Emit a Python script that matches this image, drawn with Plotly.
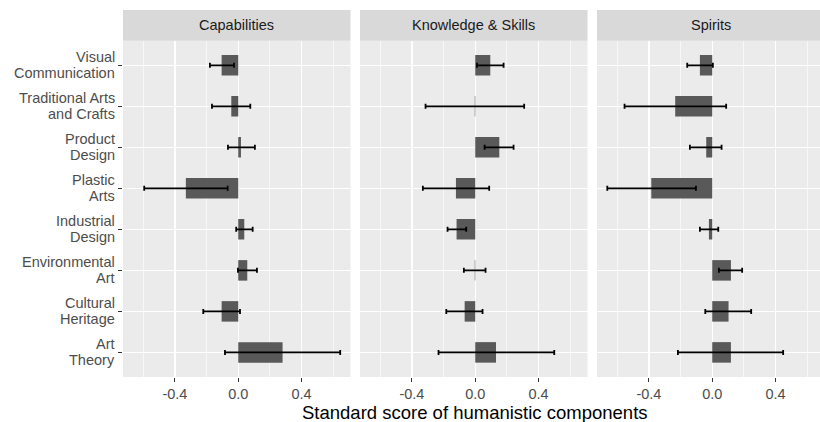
import plotly.graph_objects as go

categories = ["Visual Communication", "Traditional Arts and Crafts", "Product Design",
              "Plastic Arts", "Industrial Design", "Environmental Art",
              "Cultural Heritage", "Art Theory"]
tick_labels = [("Visual", "Communication"), ("Traditional Arts", "and Crafts"), ("Product", "Design"),
               ("Plastic", "Arts"), ("Industrial", "Design"), ("Environmental", "Art"),
               ("Cultural", "Heritage"), ("Art", "Theory")]
facets = ["Capabilities", "Knowledge & Skills", "Spirits"]

cap_val = [-0.105, -0.044, 0.017, -0.331, 0.038, 0.057, -0.105, 0.280]
cap_lo = [-0.179, -0.166, -0.065, -0.594, -0.013, -0.002, -0.221, -0.084]
cap_hi = [-0.027, 0.076, 0.105, -0.067, 0.091, 0.118, 0.011, 0.644]

ks_val = [0.095, -0.003, 0.152, -0.122, -0.118, -0.003, -0.067, 0.131]
ks_lo = [0.011, -0.314, 0.059, -0.331, -0.175, -0.072, -0.183, -0.232]
ks_hi = [0.179, 0.309, 0.242, 0.088, -0.057, 0.065, 0.046, 0.499]

sp_val = [-0.078, -0.234, -0.038, -0.385, -0.021, 0.118, 0.103, 0.118]
sp_lo = [-0.158, -0.554, -0.141, -0.663, -0.078, 0.042, -0.044, -0.217]
sp_hi = [0.004, 0.088, 0.059, -0.103, 0.038, 0.189, 0.246, 0.448]

x_ticks = [-0.4, 0.0, 0.4]
x_tick_text = ["-0.4", "0.0", "0.4"]
x_minor = [-0.6, -0.2, 0.2, 0.6]
x_title = "Standard score of humanistic components"

series = [(cap_val, cap_lo, cap_hi), (ks_val, ks_lo, ks_hi), (sp_val, sp_lo, sp_hi)]

FONT = "Liberation Sans, Arial, Helvetica, sans-serif"
W, H = 820, 422
L, R, T, B = 123, 0, 10, 45
pw = W - L - R
ph = H - T - B

panel_px = [(123, 350.5), (360, 587.5), (597, 820)]
xranges = [[-0.728, 0.709], [-0.728, 0.709], [-0.728, -0.728 + (820 - 597) / 158.3]]
ytop = (H - B - 40.7) / ph

fig = go.Figure()
for i, (vals, lo, hi) in enumerate(series):
    ax = "" if i == 0 else str(i + 1)
    plus = [h - v for v, h in zip(vals, hi)]
    minus = [v - l for v, l in zip(vals, lo)]
    fig.add_trace(go.Bar(
        x=vals, y=categories, orientation="h", width=0.5,
        marker=dict(color="#595959", line=dict(width=0)),
        error_x=dict(type="data", symmetric=False, array=plus, arrayminus=minus,
                     color="#000000", thickness=1.8, width=2.5),
        xaxis="x" + ax, yaxis="y" + ax, showlegend=False,
    ))

cat_order = categories[::-1]
for i in range(3):
    ax = "" if i == 0 else str(i + 1)
    x0 = (panel_px[i][0] - L) / pw
    x1 = min((panel_px[i][1] - L) / pw, 1.0)
    fig.layout["xaxis" + ax] = dict(
        domain=[x0, x1], range=xranges[i], anchor="y" + ax, automargin=False,
        tickvals=x_ticks, ticktext=x_tick_text, ticks="outside", ticklen=4,
        tickcolor="#333333", tickwidth=1.1,
        tickfont=dict(family=FONT, size=14.5, color="#4d4d4d"),
        showgrid=True, gridcolor="#ffffff", gridwidth=1.2, zeroline=False,
        minor=dict(tickvals=x_minor, showgrid=True, gridcolor="#ffffff", gridwidth=0.6, ticks=""),
        showline=False, fixedrange=True,
    )
    fig.layout["yaxis" + ax] = dict(
        domain=[0, ytop], anchor="x" + ax, type="category", automargin=False,
        categoryorder="array", categoryarray=cat_order, range=[-0.6, 7.6],
        tickvals=categories, showticklabels=False,
        ticks="outside" if i == 0 else "", ticklen=4,
        tickcolor="#333333", tickwidth=1.1,
        showgrid=True, gridcolor="#ffffff", gridwidth=1.2, zeroline=False,
        showline=False, fixedrange=True,
    )
    fig.add_shape(type="rect", xref="paper", yref="paper", x0=x0, x1=x1,
                  y0=0, y1=ytop, fillcolor="#ebebeb", line=dict(width=0), layer="below")
    fig.add_shape(type="rect", xref="paper", yref="paper", x0=x0, x1=x1,
                  y0=ytop, y1=1.0, fillcolor="#d9d9d9", line=dict(width=0), layer="below")
    xc = ((panel_px[i][0] + (panel_px[i][0] + 227.5)) / 2 - L) / pw
    fig.add_annotation(text=facets[i], xref="paper", yref="paper", x=xc,
                       y=(H - B - 25.4) / ph, showarrow=False, xanchor="center", yanchor="middle",
                       font=dict(family=FONT, size=14.5, color="#1a1a1a"))

# two-line y tick labels (tight line spacing like the reference)
for cat, (l1, l2) in zip(categories, tick_labels):
    for txt, shift in ((l1, 8), (l2, -8)):
        fig.add_annotation(text=txt, xref="paper", yref="y", x=0, y=cat, xshift=-6, yshift=shift,
                           showarrow=False, xanchor="right", yanchor="middle",
                           font=dict(family=FONT, size=14.5, color="#4d4d4d"))

fig.add_annotation(text=x_title, xref="paper", yref="paper", x=(475 - L) / pw,
                   y=(H - B - 412) / ph, showarrow=False, xanchor="center", yanchor="middle",
                   font=dict(family=FONT, size=18.5, color="#000000"))

fig.update_layout(
    width=W, height=H, margin=dict(l=L, r=R, t=T, b=B, pad=0, autoexpand=False),
    paper_bgcolor="#ffffff", plot_bgcolor="rgba(0,0,0,0)",
    font=dict(family=FONT), showlegend=False, hovermode=False,
)

fig.write_html("out.html", config={"displayModeBar": False, "staticPlot": True},
               post_script="document.body.style.margin='0px';document.body.style.overflow='hidden';")
